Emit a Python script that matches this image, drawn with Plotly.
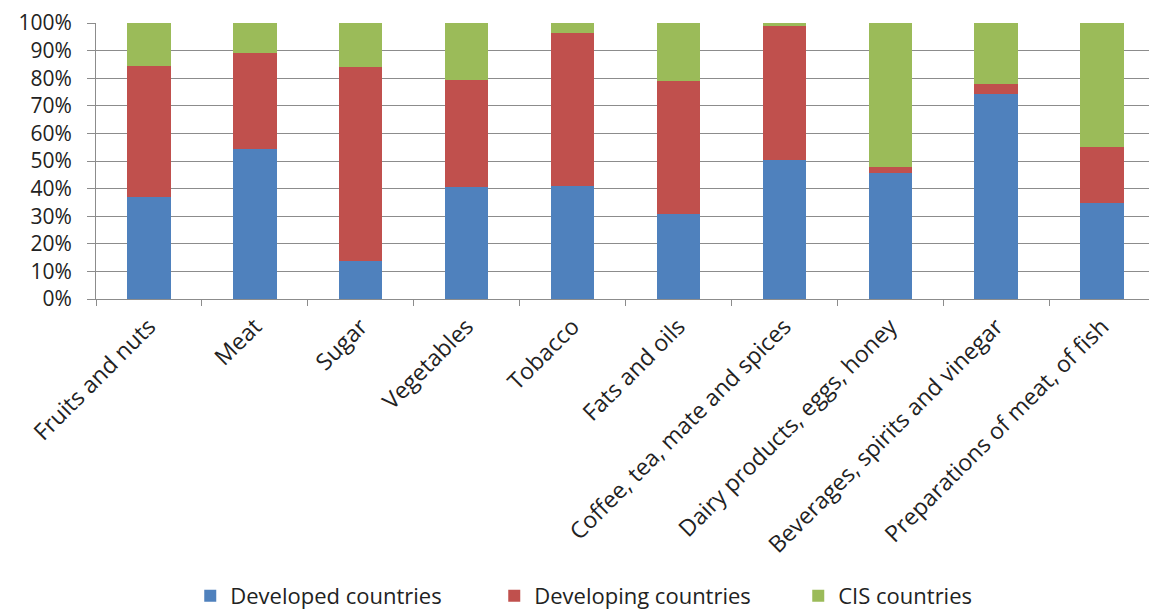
import plotly.graph_objects as go

categories = ["Fruits and nuts", "Meat", "Sugar", "Vegetables", "Tobacco",
              "Fats and oils", "Coffee, tea, mate and spices",
              "Dairy products, eggs, honey", "Beverages, spirits and vinegar",
              "Preparations of meat, of fish"]
developed = [37.0, 54.5, 13.8, 40.6, 41.0, 30.7, 50.2, 45.8, 74.4, 34.9]
developing = [47.4, 34.5, 70.2, 38.9, 55.4, 48.3, 48.8, 2.0, 3.4, 20.1]
cis = [15.6, 11.0, 16.0, 20.5, 3.6, 21.0, 1.0, 52.2, 22.2, 45.0]
series_names = ["Developed countries", "Developing countries", "CIS countries"]
colors = ["#4F81BD", "#C0504D", "#9BBB59"]

FONT = "Open Sans"
fig = go.Figure()
for name, vals, c in zip(series_names, [developed, developing, cis], colors):
    fig.add_trace(go.Bar(x=categories, y=vals, name=name, marker_color=c,
                         marker_line_width=0))

# page body adds an 8px offset, so the figure is drawn 8px smaller
fig.update_layout(
    barmode="stack", barnorm="percent", bargap=0.59,
    width=1149, height=604,
    margin=dict(l=88, r=2, t=15, b=313, autoexpand=False),
    plot_bgcolor="white", paper_bgcolor="white",
    font=dict(family=FONT, color="#222222", size=20),
    legend=dict(orientation="h", x=0.089, xanchor="left", y=-1.076,
                yanchor="middle", font=dict(size=22, color="#222222"),
                itemwidth=30, traceorder="normal", tracegroupgap=0,
                entrywidth=259, entrywidthmode="pixels"),
)
fig.update_xaxes(type="category", tickangle=-45, tickfont=dict(size=23),
                 automargin=False, ticklabelstandoff=4,
                 showline=True, linecolor="#8c8c8c", linewidth=1,
                 ticks="outside", tickson="boundaries", ticklen=6,
                 tickcolor="#8c8c8c", showgrid=False)
fig.update_yaxes(range=[0, 100], dtick=10, ticksuffix="%",
                 tickfont=dict(size=21), automargin=False,
                 ticklabeloverflow="allow",
                 showline=True, linecolor="#8c8c8c", linewidth=1,
                 ticks="outside", ticklen=8, tickcolor="#8c8c8c",
                 showgrid=True, gridcolor="#8c8c8c", gridwidth=1,
                 ticklabelstandoff=11, zeroline=False)

fig.write_html("out.html")
